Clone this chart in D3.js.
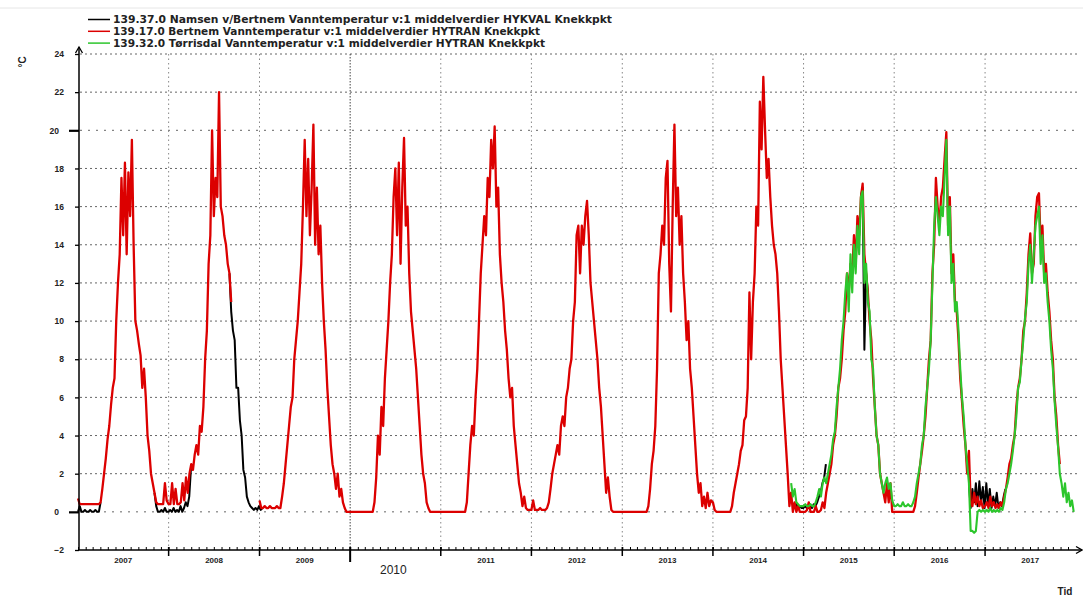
<!DOCTYPE html>
<html>
<head>
<meta charset="utf-8">
<script src="https://cdn.jsdelivr.net/npm/d3@7"></script>
<style>
  body { margin: 0; background: #fff; }
  svg text { font-family: "Liberation Sans", Arial, sans-serif; font-weight: bold; }
</style>
</head>
<body>
<svg id="chart" width="1083" height="597"></svg>
<script>
// legend / axis text
const legendLabels = [
  "139.37.0 Namsen v/Bertnem Vanntemperatur v:1 middelverdier HYKVAL Knekkpkt",
  "139.17.0 Bertnem Vanntemperatur v:1 middelverdier HYTRAN Knekkpkt",
  "139.32.0 Tørrisdal Vanntemperatur v:1 middelverdier HYTRAN Knekkpkt"
];
const yTicks = [-2, 0, 2, 4, 6, 8, 10, 12, 14, 16, 18, 20, 22, 24];
const majorYTicks = [0, 20];
const yearLabels = ["2007", "2008", "2009", "2010", "2011", "2012", "2013", "2014", "2015", "2016", "2017"];
const bigYearLabel = "2010";

// Bertnem (red), one value per week from 1 Jan of each year
const bertnem2007 = [0.7, 0.4, 0.4, 0.4, 0.4, 0.4, 0.4, 0.4, 0.4, 0.4, 0.4, 0.4, 0.4, 0.5, 1.2, 2, 2.8, 3.8, 4.5, 5.6, 6.5, 7, 10, 12, 13.5, 17.5, 14.5, 18.3, 13.5, 17.8, 15.5, 19.5, 14, 10, 9.5, 8.8, 8.2, 6.5, 7.5, 6, 4, 3.2, 2, 1.5, 1, 0.5, 0.4, 0.4, 0.4, 0.4, 1.5, 0.6];
const bertnem2008 = [0.4, 0.4, 1.5, 0.4, 1.2, 0.4, 0.4, 0.5, 1.5, 0.6, 1.8, 1.0, 2, 2.5, 2.2, 3, 3.5, 3, 4.5, 4.2, 5.5, 8, 9.5, 13, 14.5, 20, 15.5, 17.5, 16.5, 22, 16, 15.5, 14.5, 14, 13, 12.5, 11, null, null, null, null, null, null, null, null, null, null, null, null, null, null];
const bertnem2009 = [0.6, 0.2, 0.2, 0.3, 0.2, 0.2, 0.3, 0.2, 0.2, 0.2, 0.3, 0.2, 0.2, 0.8, 1.5, 2.5, 3.5, 4.5, 5.5, 6, 8, 9, 10, 11.5, 13, 16, 19.5, 15.5, 18.5, 14.5, 17, 20.3, 14, 17, 13.5, 15, 12, 10, 8.5, 6.5, 5, 3.5, 2.5, 2, 1.2, 2, 0.8, 1.2, 0.5, 0.2, 0, 0];
const bertnem2010 = [0, 0, 0, 0, 0, 0, 0, 0, 0, 0, 0, 0, 0, 0, 0.5, 1.8, 4, 3, 5.5, 4.5, 7, 8.5, 10, 12, 13.5, 16.5, 18, 14.5, 18.3, 13, 17, 19.6, 15, 16, 12.5, 10.5, 9.5, 8.5, 7.5, 6, 4.5, 3, 2, 1.5, 0.5, 0.2, 0, 0, 0, 0, 0, 0];
const bertnem2011 = [0, 0, 0, 0, 0, 0, 0, 0, 0, 0, 0, 0, 0, 0, 0, 0.5, 2, 3.5, 4.5, 4, 6, 7.5, 10, 12.5, 14, 15.5, 14.5, 17.5, 16.5, 19.5, 18, 20.2, 16, 17, 13.5, 12, 11, 9.5, 8.5, 7, 6, 6.5, 4.5, 3.5, 2.5, 1.5, 1, 0.3, 0.8, 0.2, 0.1, 0.1];
const bertnem2012 = [0.1, 0.6, 0.1, 0.1, 0.1, 0.2, 0.1, 0.1, 0.1, 0.2, 0.5, 1.2, 2, 2.5, 3, 3.5, 3, 4.5, 5, 4.5, 6, 6.5, 7.5, 8, 10, 11, 14.5, 15, 12.5, 15, 14, 15.5, 16.3, 14.5, 12, 11, 10, 9, 8, 6.5, 5.5, 4, 2.5, 1, 1.8, 0.8, 0.1, 0, 0, 0, 0, 0];
const bertnem2013 = [0, 0, 0, 0, 0, 0, 0, 0, 0, 0, 0, 0, 0, 0, 0, 0.3, 1.2, 2.5, 3.2, 4.5, 7.5, 12.5, 13.5, 15, 14, 17.5, 18.4, 13, 10.5, 16, 20.3, 15.5, 17, 14, 15.5, 12.5, 11, 9, 10, 7.5, 6.5, 5, 3.5, 2, 1, 1.5, 0.3, 0.8, 0.2, 1, 0.3, 0.6];
const bertnem2014 = [0.5, 0.1, 0, 0, 0, 0, 0, 0, 0, 0, 0, 0.3, 1, 1.5, 2, 2.5, 3.2, 3.5, 4.8, 5, 6.5, 11.5, 8, 11, 12.5, 16, 15, 21.5, 19, 22.8, 20, 17.5, 18.5, 16.5, 15, 14, 13.5, 12.5, 10.5, 8, 6.5, 5, 3.5, 2, 0.3, 1, 0, 0.5, 0, 0.3, 0, 0];
const bertnem2015 = [0, 0, 0.1, 0.5, 0, 0, 0, 0.3, 0, 0, 0.1, 0.5, 0.2, 1, 1.5, 2, 2.5, 3.5, 4, 5, 6.5, 7, 8, 9.5, 10.5, 12.5, 11.5, 13, 12.5, 14.5, 13, 15.5, 14.5, 16.5, 17.2, 13.5, 12.5, 11.5, 10, 9, 7, 5.5, 4, 3.5, 2, 1.5, 1, 0.5, 1.5, 0.5, 1.5, 0];
const bertnem2016 = [0, 0, 0, 0, 0, 0, 0, 0, 0, 0, 0, 0, 0.3, 1, 1.8, 2.5, 3.2, 4, 5, 6.5, 8, 9, 12.5, 14, 17.5, 16, 15, 16.5, 17, 18.5, 19.9, 15, 16.5, 12.5, 13.5, 11, 10.5, 9, 7, 5.8, 4.5, 3.5, 2, 3.2, 0.5, 0.3, 1, 0.4, 0.8, 0.3, 0.6, 0.2];
const bertnem2017 = [0.3, 0.5, 0.2, 0.8, 0.3, 0.5, 0.2, 0.4, 0.2, 0.5, 0.3, 0.8, 1.2, 1.8, 2.5, 2.8, 3.5, 4, 5.5, 6.5, 7, 8, 9.5, 10, 11.5, 13.5, 14.6, 12.5, 13, 15.5, 16.5, 16.7, 14, 15, 12.5, 13, 11.5, 10.5, 9, 8, 6, 5, 3.5, 2.5];

// Tørrisdal (green), weekly
const torrisdalLate2014 = [1.5, 0.8, 1.2, 0.5, 0.4, 0.3, 0.3]; // from week 45
const torrisdal2015 = [0.3, 0.4, 0.3, 0.3, 0.4, 0.3, 0.3, 0.5, 0.8, 1.2, 0.8, 1.5, 1.8, 1.5, 2, 2.5, 3, 3.8, 4.2, 5.5, 6.5, 7.5, 9, 10, 11.5, 12.5, 10.5, 13.5, 11.5, 14, 12.5, 15, 13.5, 16.5, 16.8, 12, 13, 11, 10.5, 8, 7.5, 5.5, 4, 3.5, 2, 1.5, 1, 1.5, 1.8, 1.2, 1.5, 0.6];
const torrisdal2016 = [0.3, 0.3, 0.4, 0.3, 0.3, 0.5, 0.3, 0.3, 0.4, 0.3, 0.3, 0.5, 0.8, 1.5, 2, 2.5, 3.5, 4, 5.5, 6.5, 7.5, 9, 12, 15, 16.5, 15.5, 14.5, 16, 15.5, 17.5, 19.5, 14.5, 16, 12, 13, 10.5, 11, 9.5, 7.5, 6, 5, 3.5, 2.5, 1.5, -1, -1, -1.1, -1, 0, 0.1, 0, 0.1];
const torrisdal2017 = [0, 0.1, 0, 0.2, 0, 0.1, 0, 0.1, 0, 0.2, 0.1, 0.5, 1.2, 1.5, 2, 2.5, 3.2, 4, 5, 6.5, 6.8, 8, 9, 10.2, 11, 13, 14, 12, 13.5, 15, 15.5, 16, 13, 14.5, 12, 12.5, 11, 10, 8.5, 7.5, 5.8, 4.5, 3.4, 2, 1.5, 0.8, 1.5, 0.5, 1, 0.3, 0.6, 0];

// Namsen (black): only where it shows from under the red line
const namsenEarly2007 = [0, 0.3, 0, 0, 0.1, 0, 0, 0.1, 0, 0, 0.1, 0, 0, 0.5];               // 2007 week 0
const namsenWinter0708 = [1, 0.3, 0, 0, 0.1, 0, 0.2, 0, 0, 0.1, 0, 0.2, 0, 0.1, 0, 0.3, 0, 0.2, 0.5, 0.3, 0.8, 2.3]; // 2007 week 44
const namsenAutumn2008 = [12.5, 10.5, 9.5, 9, 6.5, 6.5, 4.8, 4, 2.2, 1.8, 0.8, 0.5, 0.3, 0.2, 0.1, 0.2, 0.1, 0.3, 0.1, 0.2]; // 2008 week 35
const namsenLate2014 = [0.3, 0.2, 0.4, 0.2, 0.3, 0.2, 0.2, 0.3, 0.2, 0.2, 0.3, 0.2, 0.4, 0.3, 0.5, 0.8, 1, 1.5, 1.8, 2.5]; // 2014 week 46
const namsenSummer2015 = [16.5, 17, 8.5, 12.5, 11.5];                                         // 2015 week 33
const namsenWinter1617 = [1.5, 0.2, 1.2, 0.5, 1.5, 0.3, 1.6, 0.5, 1.3, 0.2, 1.5, 0.3, 1.2, 0.2, 0.8, 0.3, 1, 0.2, 0.5, 0.3, 0.8, 1.2]; // 2016 week 43

const colors = ["#000000", "#dc0000", "#2cc62c"];

const weekly = (year, week, values) => {
  const base = new Date(year, 0, 1);
  return values.map((v, i) => ({ date: d3.timeDay.offset(base, 7 * (week + i)), value: v }));
};

const bertnem = [
  [2007, bertnem2007], [2008, bertnem2008], [2009, bertnem2009], [2010, bertnem2010],
  [2011, bertnem2011], [2012, bertnem2012], [2013, bertnem2013], [2014, bertnem2014],
  [2015, bertnem2015], [2016, bertnem2016], [2017, bertnem2017]
].flatMap(([yr, vals]) => weekly(yr, 0, vals));

const torrisdal = [].concat(
  weekly(2014, 45, torrisdalLate2014),
  weekly(2015, 0, torrisdal2015),
  weekly(2016, 0, torrisdal2016),
  weekly(2017, 0, torrisdal2017));

const namsen = [
  weekly(2007, 0, namsenEarly2007),
  weekly(2007, 44, namsenWinter0708),
  weekly(2008, 35, namsenAutumn2008),
  weekly(2014, 46, namsenLate2014),
  weekly(2015, 33, namsenSummer2015),
  weekly(2016, 43, namsenWinter1617)
];

const svg = d3.select("#chart");

const x = d3.scaleTime()
  .domain([new Date(2007, 0, 1), new Date(2018, 0, 1)])
  .range([78, 1075.7]);
const y = d3.scaleLinear().domain([-2, 24]).range([550, 54]);

const axisX = 79, axisEnd = 1082;

// faint frame line at the top
svg.append("line")
  .attr("x1", 0).attr("x2", 1083).attr("y1", 8).attr("y2", 8)
  .attr("stroke", "#e6e6e6");

// horizontal grid
svg.append("g").selectAll("line")
  .data(yTicks.filter(t => t > -2))
  .join("line")
  .attr("x1", axisX + 1).attr("x2", 1080)
  .attr("y1", d => y(d)).attr("y2", d => y(d))
  .attr("stroke", "#666")
  .attr("stroke-dasharray", d => majorYTicks.includes(d) ? "2,6" : "2,3");

// vertical grid at year boundaries
const yearStarts = d3.timeYear.range(new Date(2008, 0, 1), new Date(2018, 0, 1));
svg.append("g").selectAll("line")
  .data(yearStarts)
  .join("line")
  .attr("x1", d => x(d)).attr("x2", d => x(d))
  .attr("y1", y(24)).attr("y2", y(-2))
  .attr("stroke", d => d.getFullYear() === +bigYearLabel ? "#444" : "#888")
  .attr("stroke-dasharray", d => d.getFullYear() === +bigYearLabel ? "1.5,1.5" : "1.5,3");

// lines
const line = d3.line()
  .defined(d => d.value != null)
  .x(d => x(d.date))
  .y(d => y(d.value));

const plot = svg.append("g").attr("fill", "none").attr("stroke-linejoin", "round");
namsen.forEach(seg => {
  plot.append("path").datum(seg).attr("d", line)
    .attr("stroke", colors[0]).attr("stroke-width", 2);
});
plot.append("path").datum(bertnem).attr("d", line)
  .attr("stroke", colors[1]).attr("stroke-width", 2.3);
plot.append("path").datum(torrisdal).attr("d", line)
  .attr("stroke", colors[2]).attr("stroke-width", 2.1);

// y axis
const gy = svg.append("g")
  .attr("transform", `translate(${axisX},0)`)
  .call(d3.axisLeft(y).tickValues(yTicks).tickSize(4).tickPadding(11).tickFormat(d3.format("d")));
gy.select(".domain").remove();
gy.selectAll(".tick line").attr("stroke", "#000").attr("stroke-width", 1.3);
gy.selectAll(".tick text").attr("font-size", 8.5).attr("fill", "#222");
gy.selectAll(".tick").filter(d => majorYTicks.includes(d))
  .call(t => t.select("line").attr("x2", -10).attr("stroke-width", 2.2))
  .call(t => t.select("text").attr("x", -20));

svg.append("line")
  .attr("x1", axisX).attr("x2", axisX).attr("y1", y(-2)).attr("y2", 47)
  .attr("stroke", "#000").attr("stroke-width", 1.5);
svg.append("path")
  .attr("d", `M${axisX - 3.5},53L${axisX},47L${axisX + 3.5},53`)
  .attr("fill", "none").attr("stroke", "#000").attr("stroke-width", 1.3);

// x axis
const gxMinor = svg.append("g")
  .attr("transform", `translate(0,${y(-2)})`)
  .call(d3.axisBottom(x)
    .tickValues(d3.timeMonth.range(new Date(2007, 0, 1), new Date(2018, 0, 1)))
    .tickSize(-3).tickFormat(""));
gxMinor.select(".domain").remove();
gxMinor.selectAll(".tick line").attr("stroke", "#000");

svg.append("line")
  .attr("x1", axisX).attr("x2", axisEnd).attr("y1", y(-2)).attr("y2", y(-2))
  .attr("stroke", "#000").attr("stroke-width", 1.5);
svg.append("path")
  .attr("d", `M${axisEnd - 6},${y(-2) - 3.5}L${axisEnd},${y(-2)}L${axisEnd - 6},${y(-2) + 3.5}`)
  .attr("fill", "none").attr("stroke", "#000").attr("stroke-width", 1.3);

svg.append("g").selectAll("line")
  .data(yearStarts)
  .join("line")
  .attr("x1", d => x(d)).attr("x2", d => x(d))
  .attr("y1", y(-2) - 3)
  .attr("y2", d => d.getFullYear() === +bigYearLabel ? y(-2) + 12 : y(-2) + 6)
  .attr("stroke", "#000")
  .attr("stroke-width", d => d.getFullYear() === +bigYearLabel ? 2 : 1.5);

svg.append("g").selectAll("text")
  .data(yearLabels.filter(l => l !== bigYearLabel))
  .join("text")
  .attr("x", d => x(new Date(+d, 6, 2)))
  .attr("y", 563)
  .attr("text-anchor", "middle")
  .attr("font-size", 8)
  .attr("fill", "#222")
  .text(d => d);

svg.append("text")
  .attr("x", x(new Date(+bigYearLabel, 6, 2)) - 2)
  .attr("y", 574)
  .attr("text-anchor", "middle")
  .attr("font-size", 12)
  .style("font-weight", "normal")
  .attr("fill", "#222")
  .text(bigYearLabel);

svg.append("text")
  .attr("transform", "translate(26,62) rotate(-90)")
  .attr("text-anchor", "middle")
  .attr("font-size", 10)
  .attr("fill", "#222")
  .text("°C");

svg.append("text")
  .attr("x", 1065).attr("y", 595)
  .attr("text-anchor", "middle")
  .attr("font-size", 10)
  .attr("fill", "#222")
  .text("Tid");

// legend (line lengths stretched to the widths seen in the original)
const legendWidths = [499, 427, 432];
const legend = svg.append("g").selectAll("g")
  .data(legendLabels)
  .join("g")
  .attr("transform", (d, i) => `translate(0,${19.5 + i * 11.8})`);
legend.append("line")
  .attr("x1", 88).attr("x2", 110)
  .attr("stroke", (d, i) => colors[i]).attr("stroke-width", 1.5);
legend.append("text")
  .attr("x", 113).attr("dy", "0.36em")
  .style("font-family", "'DejaVu Sans', sans-serif")
  .attr("font-size", 10.2)
  .attr("textLength", (d, i) => legendWidths[i])
  .attr("lengthAdjust", "spacingAndGlyphs")
  .attr("fill", "#222")
  .text(d => d);
</script>
</body>
</html>
